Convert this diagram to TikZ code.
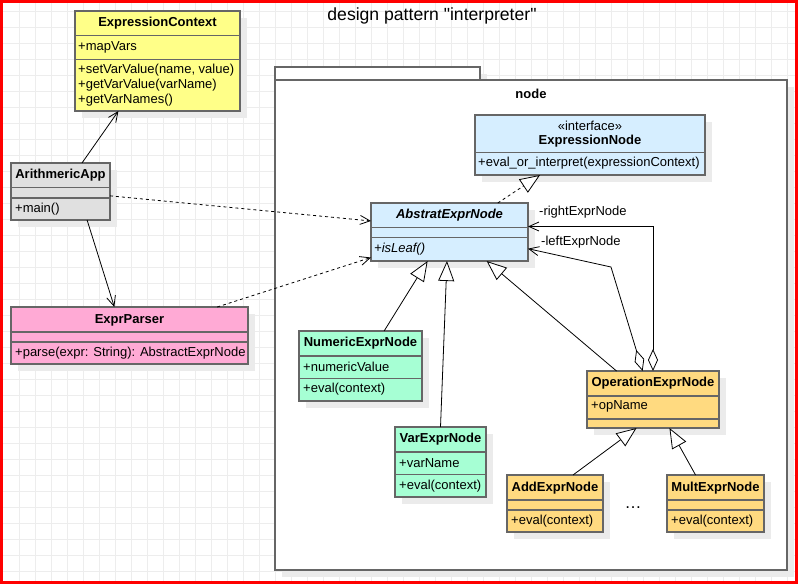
\documentclass[tikz,border=0pt]{standalone}
\usepackage{fontspec}
\setmainfont{Liberation Sans}
\usetikzlibrary{arrows.meta,shadows}

\definecolor{ctxyellow}{HTML}{FFFF88}
\definecolor{appgray}{HTML}{E0E0E0}
\definecolor{parserpink}{HTML}{FFAAD5}
\definecolor{nodeblue}{HTML}{D6EEFF}
\definecolor{leafgreen}{HTML}{A6FFD4}
\definecolor{oporange}{HTML}{FFDA80}
\newcommand{\umlsize}{\fontsize{13}{15}\selectfont}

\begin{document}
\begin{tikzpicture}[x=1pt,y=-1pt,font=\umlsize,
  box/.style={draw=black!60, line width=1.8pt, inner sep=0pt, outer sep=0pt,
    drop shadow={shadow xshift=7pt, shadow yshift=-7pt, fill=black!8, opacity=1}},
  sep/.style={draw=black!60, line width=1.8pt},
  gridline/.style={draw=black!7, line width=1pt},
  head/.style={font=\umlsize\bfseries, inner sep=0pt},
  member/.style={anchor=west, inner sep=0pt, align=left},
  assoc/.style={-{Straight Barb[length=10pt,width=9pt]}, line width=0.8pt},
  dep/.style={assoc, dash pattern=on 3pt off 3pt},
  inherit/.style={-{Triangle[fill=white,length=20pt,width=16pt]}, line width=0.8pt},
  realize/.style={inherit, dash pattern=on 3pt off 3pt},
  aggr/.style={{Diamond[fill=white,length=22pt,width=10pt]}-{Straight Barb[length=10pt,width=9pt]}, line width=0.8pt}]
\useasboundingbox (0,0) rectangle (798,584);
\fill[white] (0,0) rectangle (798,584);

% grid
\foreach \gx in {19.3,35.3,...,798} \draw[gridline] (\gx,0) -- (\gx,584);
\foreach \gy in {11,27,...,584} \draw[gridline] (0,\gy) -- (798,\gy);
\draw[red, line width=2.7pt] (1.35,1.35) rectangle (796.65,582.65);

\node[font=\fontsize{17.6}{20}\selectfont] (title) at (432,16) {design pattern \textquotedbl interpreter\textquotedbl};

% package
\node[box, fill=white, minimum width=205pt, minimum height=13pt, anchor=south west] (tab) at (275,80) {};
\node[box, fill=white, minimum width=512pt, minimum height=490pt] (pkg) at (531,325) {};
\node[head] (pkgname) at (531,94) {node};

% classes
\node[box, fill=ctxyellow, minimum width=165pt, minimum height=100pt] (ctx) at (157.5,61) {};
\draw[sep] (75,35.5) -- (240,35.5) (75,59.5) -- (240,59.5);
\node[head] (ctxname) at (157.5,23) {ExpressionContext};
\node[member] (ctxattr) at (78,47) {+mapVars};
\node[member] (ctxops) at (78,85) {+setVarValue(name, value)\\+getVarValue(varName)\\+getVarNames()};

\node[box, fill=appgray, minimum width=99pt, minimum height=57pt] (app) at (60.5,191.5) {};
\draw[sep] (11,187.5) -- (110,187.5) (11,198) -- (110,198);
\node[head] (appname) at (60.5,175) {ArithmericApp};
\node[member] (appops) at (15,209) {+main()};

\node[box, fill=parserpink, minimum width=237pt, minimum height=57pt] (parser) at (129.5,335.5) {};
\draw[sep] (11,332) -- (248,332) (11,342) -- (248,342);
\node[head] (parsername) at (129.5,320) {ExprParser};
\node[member] (parserops) at (15,353) {+parse(expr: String): AbstractExprNode};

\node[box, fill=nodeblue, minimum width=230pt, minimum height=60pt] (iface) at (590,145) {};
\draw[sep] (475,152.5) -- (705,152.5);
\node[inner sep=0pt] (stereo) at (590,126) {«interface»};
\node[head] (ifacename) at (590,141) {ExpressionNode};
\node[member] (ifaceops) at (478,163) {+eval\_or\_interpret(expressionContext)};

\node[box, fill=nodeblue, minimum width=157pt, minimum height=58pt] (abs) at (449.5,232) {};
\draw[sep] (371,227.5) -- (528,227.5) (371,237.5) -- (528,237.5);
\node[head, font=\umlsize\bfseries\itshape] (absname) at (449.5,215) {AbstratExprNode};
\node[member, font=\umlsize\itshape] (absops) at (374,249) {+isLeaf()};

\node[box, fill=leafgreen, minimum width=123pt, minimum height=70pt] (num) at (360.5,366) {};
\draw[sep] (299,356) -- (422,356) (299,378.5) -- (422,378.5);
\node[head] (numname) at (360.5,343) {NumericExprNode};
\node[member] (numattr) at (303,367) {+numericValue};
\node[member] (numops) at (303,389) {+eval(context)};

\node[box, fill=leafgreen, minimum width=91pt, minimum height=70pt] (var) at (440.5,462) {};
\draw[sep] (395,452) -- (486,452) (395,474.5) -- (486,474.5);
\node[head] (varname) at (440.5,439) {VarExprNode};
\node[member] (varattr) at (399,463) {+varName};
\node[member] (varops) at (399,486) {+eval(context)};

\node[box, fill=oporange, minimum width=132pt, minimum height=57pt] (op) at (653,399.5) {};
\draw[sep] (587,396) -- (719,396) (587,419) -- (719,419);
\node[head] (opname) at (653,383) {OperationExprNode};
\node[member] (opattr) at (591,406) {+opName};

\node[box, fill=oporange, minimum width=96pt, minimum height=57pt] (add) at (555,503.5) {};
\draw[sep] (507,500) -- (603,500) (507,510) -- (603,510);
\node[head] (addname) at (555,488) {AddExprNode};
\node[member] (addops) at (511,521) {+eval(context)};

\node[box, fill=oporange, minimum width=97pt, minimum height=57pt] (mult) at (715.5,503.5) {};
\draw[sep] (667,500) -- (764,500) (667,510) -- (764,510);
\node[head] (multname) at (715.5,488) {MultExprNode};
\node[member] (multops) at (671,521) {+eval(context)};

\node[font=\fontsize{17}{20}\selectfont] (dots) at (633,508) {\dots};

% relations
\draw[assoc] (app.53) -- (ctx.232);
\draw[assoc] (app.313) -- (parser.118);
\draw[dep] (app.355) -- (abs.172);
\draw[dep] (parser.18) -- (abs.198);
\draw[realize] (abs.31) -- (iface.211);
\draw[inherit] (num.56) -- (abs.233);
\draw[inherit] (var.north) -- (abs.265);
\draw[inherit] (op.142) -- (abs.322);
\draw[inherit] (add.north east) ++(-30,0) coordinate (addtop) (addtop) -- (op.240);
\draw[inherit] (mult.125) -- (op.300);
\draw[aggr] (op.110) -- (611,267) -- (abs.348);
\draw[aggr] (op.north) |- (abs.4);
\node[member] (rightlab) at (539,212) {-rightExprNode};
\node[member] (leftlab) at (541,242) {-leftExprNode};

\end{tikzpicture}
\end{document}
